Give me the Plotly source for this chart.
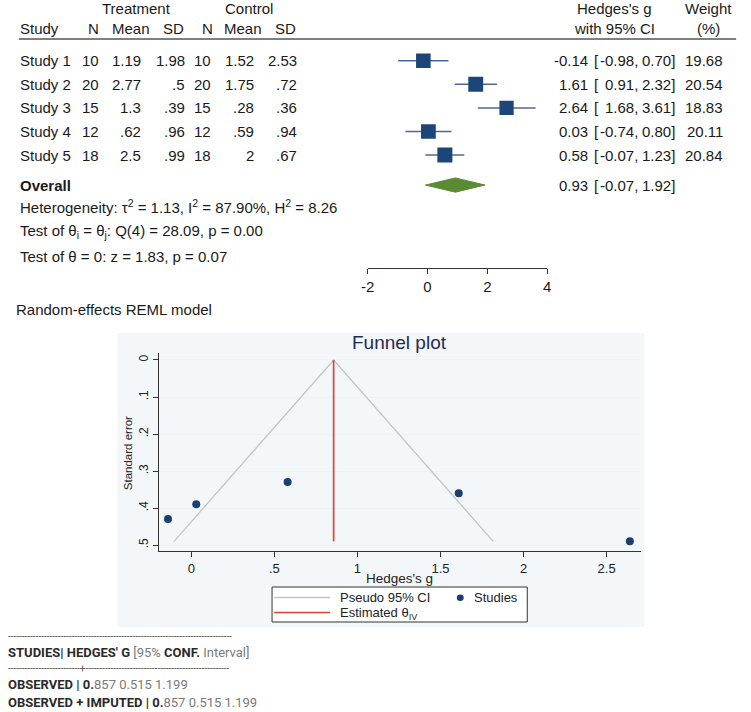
import plotly.graph_objects as go

# ---------------- data ----------------
studies = ["Study 1", "Study 2", "Study 3", "Study 4", "Study 5"]
t_n = [10, 20, 15, 12, 18]
t_mean = [1.19, 2.77, 1.3, 0.62, 2.5]
t_sd = [1.98, 0.5, 0.39, 0.96, 0.99]
c_n = [10, 20, 15, 12, 18]
c_mean = [1.52, 1.75, 0.28, 0.59, 2]
c_sd = [2.53, 0.72, 0.36, 0.94, 0.67]
hedges_g = [-0.14, 1.61, 2.64, 0.03, 0.58]
ci_low = [-0.98, 0.91, 1.68, -0.74, -0.07]
ci_high = [0.70, 2.32, 3.61, 0.80, 1.23]
weight = [19.68, 20.54, 18.83, 20.11, 20.84]
overall = {"g": 0.93, "lo": -0.07, "hi": 1.92}
tau2, i2, h2 = 1.13, 87.90, 8.26
q_df, q_stat, q_p = 4, 28.09, 0.00
z_stat, z_p = 1.83, 0.07
forest_ticks = [-2, 0, 2, 4]

funnel_se = [0.43, 0.36, 0.49, 0.39, 0.33]
theta_iv = 0.857
funnel_xticks = [0, 0.5, 1, 1.5, 2, 2.5]
funnel_xlabels = ["0", ".5", "1", "1.5", "2", "2.5"]
funnel_yticks = [0, 0.1, 0.2, 0.3, 0.4, 0.5]
funnel_ylabels = ["0", ".1", ".2", ".3", ".4", ".5"]

trimfill_obs = [0.857, 0.515, 1.199]
trimfill_imp = [0.857, 0.515, 1.199]

# ---------------- layout helpers ----------------
W, H = 751, 712
def px(x): return x / W
def py(y): return 1 - y / H

def stata(v):
    s = f"{v:g}"
    if s.startswith("0."):
        s = s[1:]
    return s

FONT = "Liberation Sans, Arial, Helvetica, sans-serif"
FS = 15
TXT = "#1a1a1a"
BOX = "#1b4677"
CIC = "#50669a"
DIAM = "#5b8a35"

ROW0_PY, ROW_STEP = 60.7, 23.6
OVERALL_ROW = 6.27

rows = list(range(1, len(studies) + 1))

fig = go.Figure()

# forest CI lines (drawn first so boxes sit on top)
ci_x, ci_y = [], []
for lo, hi, r in zip(ci_low, ci_high, rows):
    ci_x += [lo, hi, None]
    ci_y += [r, r, None]
fig.add_trace(go.Scatter(x=ci_x, y=ci_y, mode="lines", line=dict(color=CIC, width=1.5),
                         xaxis="x", yaxis="y", showlegend=False, hoverinfo="skip"))
sizes = [15 * (w / max(weight)) ** 0.5 for w in weight]
fig.add_trace(go.Scatter(
    x=hedges_g, y=rows, mode="markers",
    marker=dict(symbol="square", size=sizes, color=BOX, opacity=1, line=dict(width=0)),
    xaxis="x", yaxis="y", showlegend=False, hoverinfo="skip"))

# overall diamond
DH = 0.30
fig.add_trace(go.Scatter(
    x=[overall["lo"], overall["g"], overall["hi"], overall["g"], overall["lo"]],
    y=[OVERALL_ROW, OVERALL_ROW - DH, OVERALL_ROW, OVERALL_ROW + DH, OVERALL_ROW],
    mode="lines", fill="toself", fillcolor=DIAM, line=dict(color=DIAM, width=1),
    xaxis="x", yaxis="y", showlegend=False, hoverinfo="skip"))

# funnel plot
se_max = max(funnel_se)
fig.add_trace(go.Scatter(
    x=[theta_iv - 1.96 * se_max, theta_iv, theta_iv + 1.96 * se_max],
    y=[se_max, 0, se_max], mode="lines",
    line=dict(color="#c4c4c4", width=1.3),
    xaxis="x2", yaxis="y2", showlegend=False, hoverinfo="skip"))
fig.add_trace(go.Scatter(
    x=[theta_iv, theta_iv], y=[0, se_max], mode="lines",
    line=dict(color="#e2413b", width=1.7),
    xaxis="x2", yaxis="y2", showlegend=False, hoverinfo="skip"))
fig.add_trace(go.Scatter(
    x=hedges_g, y=funnel_se, mode="markers",
    marker=dict(size=8, color="#1b3f73"),
    xaxis="x2", yaxis="y2", showlegend=False, hoverinfo="skip"))

ann = []
def txt(x, y, s, anchor="left", size=FS, color=TXT, yref="paper", family=FONT, angle=0):
    ann.append(dict(x=x, y=y, xref="paper", yref=yref, text=s, showarrow=False,
                    xanchor=anchor, yanchor="middle", textangle=angle, borderpad=0,
                    font=dict(size=size, color=color, family=family)))

LEFT = 12
# headers
txt(px(131), py(8.5), "Treatment", "center")
txt(px(245.5), py(8.5), "Control", "center")
txt(px(LEFT), py(28.5), "Study")
for cx, s in [(87.5, "N"), (125.5, "Mean"), (168.5, "SD"), (203, "N"), (239.5, "Mean"), (283, "SD")]:
    txt(px(cx), py(28.5), s, "center")
txt(px(617), py(8.5), "Hedges's g", "center")
txt(px(617), py(28.5), "with 95% CI", "center")
txt(px(712), py(8.5), "Weight", "center")
txt(px(712), py(28.5), "(%)", "center")

EST_R, BR_L, LO_R, HI_R, W_R = 590.5, 594.5, 641.5, 679, 727.5

# study rows
for i, r in enumerate(rows):
    txt(px(LEFT), r, studies[i], yref="y")
    txt(px(94.5), r, str(t_n[i]), "right", yref="y")
    txt(px(137.5), r, stata(t_mean[i]), "right", yref="y")
    txt(px(181.5), r, stata(t_sd[i]), "right", yref="y")
    txt(px(208.5), r, str(c_n[i]), "right", yref="y")
    txt(px(251.5), r, stata(c_mean[i]), "right", yref="y")
    txt(px(295.5), r, stata(c_sd[i]), "right", yref="y")
    txt(px(EST_R), r, f"{hedges_g[i]:.2f}", "right", yref="y")
    txt(px(BR_L), r, "[", "left", yref="y")
    txt(px(LO_R), r, f"{ci_low[i]:.2f},", "right", yref="y")
    txt(px(HI_R), r, f"{ci_high[i]:.2f}]", "right", yref="y")
    txt(px(W_R), r, f"{weight[i]:.2f}", "right", yref="y")

txt(px(LEFT), OVERALL_ROW, "<b>Overall</b>", yref="y")
txt(px(EST_R), OVERALL_ROW, f"{overall['g']:.2f}", "right", yref="y")
txt(px(BR_L), OVERALL_ROW, "[", "left", yref="y")
txt(px(LO_R), OVERALL_ROW, f"{overall['lo']:.2f},", "right", yref="y")
txt(px(HI_R), OVERALL_ROW, f"{overall['hi']:.2f}]", "right", yref="y")

txt(px(LEFT), py(206.5),
    f"Heterogeneity: τ<sup>2</sup> = {tau2:.2f}, I<sup>2</sup> = {i2:.2f}%, H<sup>2</sup> = {h2:.2f}")
txt(px(LEFT), py(231.5),
    f"Test of θ<sub>i</sub> = θ<sub>j</sub>: Q({q_df}) = {q_stat:.2f}, p = {q_p:.2f}")
txt(px(LEFT), py(256), f"Test of θ = 0: z = {z_stat:.2f}, p = {z_p:.2f}")
txt(px(8), py(309), "Random-effects REML model")

# funnel texts
txt(px(398), py(343), "Funnel plot", "center", size=19, color="#1f2b55")
txt(px(398), py(578), "Hedges's g", "center", size=13.5, color="#222")
txt(px(123), py(453), "Standard error", "center", size=11.5, color="#222", angle=-90)

# legend
txt(px(337), py(597.5), "Pseudo 95% CI", size=13, color="#222")
txt(px(337), py(613), "Estimated θ<sub>IV</sub>", size=13, color="#222")
txt(px(473), py(597.5), "Studies", size=13, color="#222")

# bottom text
BF = "Roboto, Arial, sans-serif"
DK = "#2a2a2a"
GR = "#7a7a7a"
txt(0, py(636), "-" * 81, size=10, color="#555", family=BF)
txt(0, py(652),
    f"<b>STUDIES| HEDGES' G</b> <span style='color:{GR}'>[95%</span> <b>CONF.</b> "
    f"<span style='color:{GR}'>Interval]</span>", size=13, color=DK, family=BF)
txt(0, py(668), "-" * 26 + "+" + "-" * 52, size=10, color="#555", family=BF)
def obs_line(label, vals):
    first = f"{vals[0]:.3f}"
    return (f"<b>{label} | {first[:2]}</b><span style='color:{GR}'>{first[2:]} "
            f"{vals[1]:.3f} {vals[2]:.3f}</span>")
txt(0, py(684), obs_line("OBSERVED", trimfill_obs), size=13, color=DK, family=BF)
txt(0, py(702), obs_line("OBSERVED + IMPUTED", trimfill_imp), size=13, color=DK, family=BF)

shapes = [
    dict(type="line", xref="paper", yref="paper", x0=px(12), x1=px(740), y0=py(39), y1=py(39),
         line=dict(color="#555", width=1.6)),
    dict(type="rect", xref="paper", yref="paper", x0=px(112), x1=px(647), y0=py(627), y1=py(333),
         fillcolor="#f3f7fa", line=dict(width=0), layer="below"),
    dict(type="rect", xref="paper", yref="paper", x0=px(269), x1=px(528), y0=py(622), y1=py(587),
         fillcolor="white", line=dict(color="#333", width=1)),
    dict(type="line", xref="paper", yref="paper", x0=px(271), x1=px(328), y0=py(597.5), y1=py(597.5),
         line=dict(color="#c4c4c4", width=1.5)),
    dict(type="line", xref="paper", yref="paper", x0=px(271), x1=px(328), y0=py(612.5), y1=py(612.5),
         line=dict(color="#e2413b", width=1.7)),
    dict(type="circle", xref="paper", yref="paper", x0=px(456.5), x1=px(463.5), y0=py(601), y1=py(594.5),
         fillcolor="#1b3f73", line=dict(width=0)),
]

axis_common = dict(showline=True, linecolor="#333", linewidth=1.2, ticks="outside",
                   ticklen=5, tickcolor="#333", zeroline=False, fixedrange=True)

fig.update_layout(
    width=W, height=H, autosize=False,
    margin=dict(l=0, r=0, t=0, b=0),
    paper_bgcolor="white", plot_bgcolor="white",
    font=dict(family=FONT, size=FS, color=TXT),
    showlegend=False,
    xaxis=dict(domain=[px(366), px(548.3)], range=[-2, 4], anchor="free", position=py(268),
               tickvals=forest_ticks, ticktext=[str(t) for t in forest_ticks], showgrid=False,
               tickfont=dict(size=FS, color=TXT), **axis_common),
    yaxis=dict(domain=[py(200), py(40)], range=[1 + (200 - ROW0_PY) / ROW_STEP,
                                                1 + (40 - ROW0_PY) / ROW_STEP],
               visible=False, fixedrange=True),
    xaxis2=dict(domain=[px(154), px(643)], range=[-0.1957, 2.7046], anchor="y2",
                tickvals=funnel_xticks, ticktext=funnel_xlabels, showgrid=False,
                tickfont=dict(size=13, color="#222"), **axis_common),
    yaxis2=dict(domain=[py(551), py(353)], range=[0.5162, -0.0189], anchor="x2",
                tickvals=funnel_yticks, ticktext=funnel_ylabels, tickangle=-90,
                showgrid=True, gridcolor="#eef2f5", gridwidth=1,
                tickfont=dict(size=12, color="#222"), **axis_common),
    annotations=ann,
    shapes=shapes,
)

fig.write_html("out.html", config={"displayModeBar": False},
               post_script="document.body.style.margin='0';document.body.style.overflow='hidden';")
